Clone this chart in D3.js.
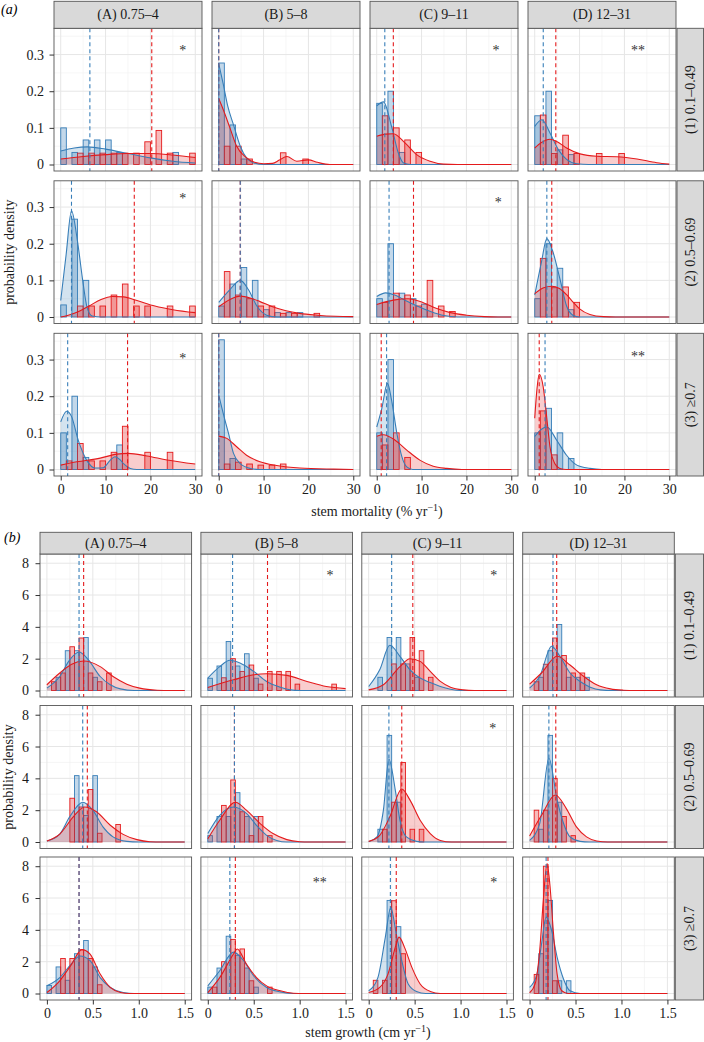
<!DOCTYPE html>
<html>
<head>
<meta charset="utf-8">
<script src="https://cdn.jsdelivr.net/npm/d3@7"></script>
<style>
  body { margin: 0; background: #fff; }
  svg { display: block; font-family: "Liberation Serif", "Times New Roman", serif; }
</style>
</head>
<body>
<svg id="chart" width="704" height="1042"></svg>
<script>
// facet labels
const sizeClasses = ["(A) 0.75–4", "(B) 5–8", "(C) 9–11", "(D) 12–31"];
const woodClasses = ["(1) 0.1–0.49", "(2) 0.5–0.69", "(3) ≥0.7"];

// ---- (a) stem mortality (% per yr). panels row-major: (1)A..D, (2)A..D, (3)A..D
// histogram bins of 2.5, blue = left half of each bin, red = right half
const mortBinWidth = 2.5;
const mortXMax = 30;
const mortXTicks = [0, 10, 20, 30];
const mortXMinor = [5, 15, 25];
const mortYTicks = [0, 0.1, 0.2, 0.3];
const mortYMinor = [0.05, 0.15, 0.25, 0.35];

const mortBlueBars = [
  [0.1, 0.033, 0.067, 0.067, 0.067, 0.033, 0, 0, 0, 0, 0.033],
  [0.277, 0.108, 0.015],
  [0.167, 0.2, 0.033],
  [0.133, 0.2, 0.04, 0.027],
  [0.033, 0.267, 0.1],
  [0.03, 0.09, 0.135, 0.1, 0.02, 0.012, 0.012, 0.012],
  [0.05, 0.2, 0.065, 0.05, 0.035],
  [0.05, 0.2, 0.133, 0.02],
  [0.1, 0.2, 0.033, 0, 0, 0.067],
  [0.354, 0.03],
  [0.1, 0.3],
  [0.1, 0.167, 0.1, 0.03]
];
const mortRedBars = [
  [0, 0.031, 0.031, 0.031, 0.031, 0.031, 0.031, 0.062, 0.093, 0.031, 0, 0.031],
  [0.05, 0.05, 0.015, 0, 0, 0.032, 0, 0.015],
  [0.133, 0.1, 0.067, 0.033],
  [0.135, 0.03, 0.08, 0.03, 0, 0.03, 0, 0.03],
  [0, 0.03, 0.03, 0.03, 0.06, 0.09, 0.03, 0.03, 0, 0.03, 0, 0.03],
  [0.124, 0.06, 0.05, 0.03, 0.03, 0.01, 0.01, 0, 0.01],
  [0.04, 0.065, 0.06, 0.03, 0.1, 0.03, 0.015],
  [0.16, 0.08, 0.082, 0.04],
  [0.0235, 0.071, 0.0235, 0.0235, 0.047, 0.118, 0, 0.047, 0, 0.047],
  [0.015, 0.02, 0.015, 0.012, 0.012, 0.015],
  [0.067, 0.1, 0.033],
  [0.16, 0.04]
];
const mortBlueCurves = [
  [[0,0.037],[3,0.045],[6,0.048],[10,0.042],[15,0.03],[20,0.018],[25,0.009],[30,0.004]],
  [[0,0.275],[1,0.22],[2,0.16],[3.3,0.108],[4.8,0.05],[6.2,0.018],[7.7,0.005],[10,0],[30,0]],
  [[0,0.16],[1.5,0.171],[3.3,0.104],[4.8,0.032],[5.9,0.005],[7.5,0],[30,0]],
  [[0,0.104],[1.6,0.122],[3.4,0.086],[5.3,0.04],[7.1,0.014],[9.4,0.002],[12,0],[30,0]],
  [[0,0.045],[1.2,0.17],[2.4,0.29],[3.7,0.21],[4.9,0.1],[5.9,0.025],[7,0.003],[9,0],[30,0]],
  [[0,0.04],[2.5,0.075],[4.8,0.1],[6.6,0.075],[8.5,0.03],[10.7,0.005],[13,0],[30,0]],
  [[0,0.056],[2,0.066],[4,0.06],[6,0.048],[9,0.03],[12,0.015],[15,0.004],[18,0],[30,0]],
  [[0,0.06],[1.5,0.15],[2.7,0.214],[4,0.18],[5.7,0.1],[7.1,0.03],[8.5,0.005],[10,0],[30,0]],
  [[0,0.13],[1.3,0.159],[2.4,0.145],[3.9,0.08],[5.8,0.025],[7.7,0.004],[9.5,0.005],[11,0.025],[12.1,0.035],[13.2,0.027],[14,0.016],[15.5,0.003],[17,0],[30,0]],
  [[0,0.203],[1,0.153],[2.2,0.098],[3.3,0.044],[4.8,0.016],[7,0.003],[9,0],[30,0]],
  [[0,0.116],[1.1,0.165],[2.4,0.235],[3.3,0.19],[4.5,0.098],[5.6,0.035],[6.7,0.007],[8,0],[30,0]],
  [[0,0.09],[1.5,0.11],[2.7,0.116],[4.9,0.08],[7.1,0.039],[9.4,0.012],[12.3,0.003],[15,0],[30,0]]
];
const mortRedCurves = [
  [[0,0.015],[5,0.022],[10,0.027],[15,0.03],[20,0.03],[25,0.026],[30,0.019]],
  [[0,0.18],[1,0.15],[2.5,0.1],[4,0.05],[6,0.02],[8,0.006],[10,0.002],[12,0.003],[13.5,0.012],[15.2,0.022],[17.4,0.009],[20,0.0126],[22,0.006],[24.8,0],[30,0]],
  [[0,0.077],[2,0.083],[3.7,0.084],[6.3,0.059],[8.9,0.027],[11.9,0.009],[14.9,0.001],[18,0],[30,0]],
  [[0,0.045],[1.5,0.06],[3.4,0.069],[5,0.062],[7.1,0.045],[10.1,0.029],[13.8,0.0225],[18.3,0.021],[22.8,0.015],[27.2,0.005],[30,0.001]],
  [[0,0],[1.5,0.004],[4,0.015],[6.3,0.03],[9,0.048],[11.5,0.056],[14,0.055],[17,0.045],[21,0.03],[25,0.02],[30,0.012]],
  [[0,0.028],[2.5,0.048],[4.8,0.057],[7,0.052],[9.2,0.042],[12,0.028],[15,0.017],[18,0.01],[22,0.005],[26,0.002],[30,0.001]],
  [[0,0.034],[3.7,0.046],[7,0.05],[10.4,0.039],[13.4,0.023],[16.4,0.012],[20,0.005],[24,0.001],[27,0],[30,0]],
  [[0,0.064],[2,0.08],[3.8,0.084],[5.5,0.078],[7.1,0.061],[8.6,0.04],[10,0.022],[12.3,0.007],[15.3,0.001],[18,0],[30,0]],
  [[0,0.012],[3.6,0.021],[8.8,0.031],[12.5,0.042],[15,0.044],[19.2,0.037],[23.7,0.026],[30,0.015]],
  [[0,0.091],[1.8,0.085],[4,0.062],[6.2,0.039],[9.2,0.021],[12.9,0.011],[18.1,0.004],[25.6,0.001],[30,0]],
  [[0,0.091],[1.5,0.095],[4.1,0.08],[6.7,0.053],[9.7,0.025],[12.6,0.009],[15.6,0.003],[19,0],[30,0]],
  [[0,0.14],[0.5,0.22],[1,0.26],[1.9,0.225],[2.7,0.14],[3.4,0.062],[4.5,0.016],[5.6,0.003],[7,0],[30,0]]
];
const mortBlueMeans = [6.5, 0, 1.8, 1.9, 2.4, 4.8, 2.75, 2.7, 1.55, 0, 2.2, 2.3];
const mortRedMeans = [20.3, 0, 3.7, 4.7, 16.4, 4.8, 8.2, 3.8, 14.9, 0, 1.0, 1.0];
const mortStars = [
  { panel: 0, x: 27.2, y: 0.317, label: "*" },
  { panel: 2, x: 26.6, y: 0.317, label: "*" },
  { panel: 3, x: 23, y: 0.317, label: "**" },
  { panel: 4, x: 27.2, y: 0.33, label: "*" },
  { panel: 6, x: 27.1, y: 0.32, label: "*" },
  { panel: 8, x: 27.2, y: 0.31, label: "*" },
  { panel: 11, x: 23, y: 0.316, label: "**" }
];

// ---- (b) stem growth (cm per yr), bins of 0.1
const growBinWidth = 0.1;
const growXMax = 1.5;
const growXTicks = [0, 0.5, 1, 1.5];
const growXMinor = [0.25, 0.75, 1.25];
const growYTicks = [0, 2, 4, 6, 8];
const growYMinor = [1, 3, 5, 7];

const growBlueBars = [
  [0, 0.83, 2.5, 2.5, 3.33, 0.83],
  [0.77, 1.54, 3.08, 1.54, 2.31, 0.77],
  [0, 0.83, 3.33, 3.33, 1.67, 0.83],
  [0, 0.83, 2.5, 4.15, 0.83, 0.83, 0.83],
  [0, 0, 0, 4.17, 1.67, 4.17],
  [0.4, 1.6, 1.6, 3.1, 1.6, 1.6],
  [0, 0.8, 6.7, 2.5],
  [0, 0.8, 6.7, 2.5],
  [0.5, 1.67, 0.83, 2.5, 3.33, 1.67],
  [0.4, 1.6, 3.6, 2.4, 1.6, 0.4],
  [0, 0, 5.85, 4.2],
  [0, 2.5, 5.85, 0.8, 0.8]
];
const growRedBars = [
  [0.55, 1.1, 2.75, 3.3, 1.1, 0.55, 1.1],
  [0, 0.8, 2.0, 1.2, 1.6, 0.4, 1.2, 1.2, 1.2, 0.4, 0, 0, 0, 0.4],
  [0, 0, 1.67, 1.67, 3.33, 2.5, 0.83],
  [0.55, 1.65, 3.3, 2.2, 1.1, 1.1],
  [0, 0, 2.75, 2.2, 3.3, 0.55, 0, 1.1],
  [0, 2.3, 3.9, 1.9, 0.4, 1.6, 0.4],
  [0, 0.8, 2.5, 5.0, 0.8, 0.8],
  [2.0, 2.0, 4.0, 1.6, 0.4],
  [0, 2.2, 2.2, 2.75, 2.2, 0.55],
  [0.4, 2.0, 3.4, 2.8, 0.8, 0, 0.4],
  [0.83, 0.83, 5.83, 2.5],
  [1.2, 8.0, 0.8]
];
const growBlueCurves = [
  [[0,0.15],[0.14,0.88],[0.25,1.94],[0.35,2.42],[0.45,1.94],[0.58,0.88],[0.69,0.36],[0.8,0.1],[0.95,0],[1.5,0]],
  [[0,0.78],[0.13,1.5],[0.24,1.9],[0.35,1.73],[0.5,1.2],[0.64,0.57],[0.79,0.21],[0.9,0.04],[1.0,0],[1.5,0]],
  [[0,0.25],[0.12,1.3],[0.23,2.84],[0.34,2.15],[0.45,1.3],[0.56,0.78],[0.67,0.5],[0.78,0.25],[0.89,0.08],[1.0,0],[1.5,0]],
  [[0,0.15],[0.11,0.88],[0.24,2.78],[0.33,2.15],[0.44,1.1],[0.55,0.57],[0.66,0.21],[0.77,0.04],[0.9,0],[1.5,0]],
  [[0,0.06],[0.14,0.5],[0.25,1.6],[0.39,2.5],[0.5,2.0],[0.61,0.95],[0.72,0.32],[0.87,0.04],[1.0,0],[1.5,0]],
  [[0,0.53],[0.13,1.68],[0.28,2.2],[0.42,1.8],[0.53,1.05],[0.64,0.42],[0.75,0.1],[0.86,0],[1.5,0]],
  [[0,0.02],[0.09,0.32],[0.16,2.0],[0.22,5.2],[0.29,3.25],[0.34,1.37],[0.41,0.32],[0.52,0.04],[0.6,0],[1.5,0]],
  [[0,0.1],[0.11,1.16],[0.21,5.26],[0.3,2.63],[0.37,1.16],[0.44,0.32],[0.55,0.04],[0.65,0],[1.5,0]],
  [[0,0.48],[0.14,1.0],[0.25,1.75],[0.36,2.36],[0.47,2.06],[0.58,1.0],[0.69,0.38],[0.83,0.06],[0.95,0],[1.5,0]],
  [[0,0.48],[0.13,1.43],[0.28,2.6],[0.39,2.06],[0.5,1.1],[0.64,0.38],[0.79,0.1],[0.93,0],[1.5,0]],
  [[0,0.17],[0.1,1.0],[0.18,3.5],[0.24,5.4],[0.3,3.75],[0.36,2.06],[0.43,0.6],[0.52,0.13],[0.62,0],[1.5,0]],
  [[0,0.38],[0.08,1.22],[0.13,3.1],[0.18,4.8],[0.24,3.96],[0.3,2.27],[0.37,0.9],[0.44,0.17],[0.55,0],[1.5,0]]
];
const growRedCurves = [
  [[0,0.36],[0.14,1.1],[0.27,1.65],[0.4,1.85],[0.58,1.5],[0.72,0.88],[0.87,0.4],[1.01,0.15],[1.2,0.02],[1.35,0],[1.5,0]],
  [[0,0.19],[0.28,0.67],[0.5,0.99],[0.64,1.05],[0.86,0.95],[1.08,0.57],[1.29,0.25],[1.5,0.12]],
  [[0,0.04],[0.16,0.36],[0.34,1.5],[0.45,2.0],[0.56,1.83],[0.67,1.2],[0.78,0.57],[0.89,0.21],[1.03,0.04],[1.15,0],[1.5,0]],
  [[0,0.4],[0.13,1.1],[0.3,2.15],[0.44,1.6],[0.59,0.88],[0.73,0.36],[0.88,0.1],[1.02,0.02],[1.15,0],[1.5,0]],
  [[0,0.06],[0.14,0.5],[0.29,1.6],[0.41,2.2],[0.54,1.9],[0.69,1.05],[0.83,0.48],[0.98,0.15],[1.12,0.02],[1.25,0],[1.5,0]],
  [[0,0.2],[0.13,1.37],[0.3,2.5],[0.42,2.0],[0.57,1.16],[0.71,0.53],[0.86,0.15],[1.0,0.02],[1.1,0],[1.5,0]],
  [[0,0.04],[0.12,0.42],[0.23,1.58],[0.36,3.33],[0.45,2.63],[0.56,1.37],[0.67,0.53],[0.78,0.1],[0.9,0],[1.5,0]],
  [[0,0.38],[0.13,1.68],[0.28,2.95],[0.4,2.1],[0.51,0.95],[0.62,0.32],[0.73,0.06],[0.85,0],[1.5,0]],
  [[0,0.06],[0.14,0.8],[0.27,1.85],[0.38,2.76],[0.47,2.48],[0.58,1.22],[0.69,0.38],[0.8,0.06],[0.9,0],[1.5,0]],
  [[0,0.06],[0.13,1.0],[0.28,2.48],[0.32,2.8],[0.42,1.85],[0.53,1.0],[0.64,0.48],[0.79,0.17],[0.93,0.02],[1.05,0],[1.5,0]],
  [[0,0.06],[0.12,0.38],[0.21,1.22],[0.3,3.1],[0.33,3.54],[0.39,2.9],[0.47,1.64],[0.56,0.6],[0.67,0.13],[0.78,0],[1.5,0]],
  [[0,0.05],[0.06,0.6],[0.11,2.7],[0.15,5.9],[0.19,8.17],[0.22,6.9],[0.26,3.8],[0.3,1.2],[0.35,0.17],[0.42,0],[1.5,0]]
];
const growBlueMeans = [0.35, 0.27, 0.25, 0.255, 0.39, 0.29, 0.22, 0.21, 0.35, 0.24, 0.236, 0.18];
const growRedMeans = [0.40, 0.65, 0.48, 0.295, 0.44, 0.29, 0.36, 0.285, 0.35, 0.30, 0.30, 0.20];
const growStars = [
  { panel: 1, x: 1.33, y: 7.4, label: "*" },
  { panel: 2, x: 1.36, y: 7.4, label: "*" },
  { panel: 6, x: 1.35, y: 7.3, label: "*" },
  { panel: 9, x: 1.22, y: 7.16, label: "**" },
  { panel: 10, x: 1.36, y: 7.16, label: "*" }
];

const blue = "#377EB8";
const red = "#E41A1C";
const fs = 14;
const svg = d3.select("#chart");
let clipId = 0;

function styleAxis(g) {
  g.attr("font-family", null).attr("font-size", fs);
  g.select(".domain").remove();
  g.selectAll(".tick line").attr("stroke", "#333");
  g.selectAll(".tick text").attr("fill", "#1a1a1a");
}

function drawFacets(cfg) {
  const g = svg.append("g");
  const allY = cfg.blueBars.flat().concat(cfg.redBars.flat(),
    cfg.blueCurves.flat().map(d => d[1]), cfg.redCurves.flat().map(d => d[1]));
  const yMax = d3.max(allY);
  const x = d3.scaleLinear().domain([-0.05 * cfg.xMax, 1.05 * cfg.xMax]).range([0, cfg.pw]);
  const y = d3.scaleLinear().domain([-0.05 * yMax, 1.05 * yMax]).range([cfg.ph, 0]);
  const area = d3.area().curve(d3.curveMonotoneX).x(d => x(d[0])).y0(y(0)).y1(d => y(d[1]));
  const line = d3.line().curve(d3.curveMonotoneX).x(d => x(d[0])).y(d => y(d[1]));
  const bw = cfg.binWidth;

  for (let r = 0; r < 3; r++) {
    for (let c = 0; c < 4; c++) {
      const i = r * 4 + c;
      const px = cfg.left + c * (cfg.pw + cfg.hgap);
      const py = cfg.top + r * (cfg.ph + cfg.vgap);
      const p = g.append("g").attr("transform", `translate(${px},${py})`);
      const id = "clip" + (clipId++);
      p.append("clipPath").attr("id", id).append("rect")
        .attr("width", cfg.pw).attr("height", cfg.ph);
      p.append("rect").attr("width", cfg.pw).attr("height", cfg.ph).attr("fill", "#fff");

      const inner = p.append("g").attr("clip-path", `url(#${id})`);
      // grid
      inner.selectAll(".vmin").data(cfg.xMinor).join("line")
        .attr("x1", d => x(d)).attr("x2", d => x(d)).attr("y1", 0).attr("y2", cfg.ph)
        .attr("stroke", "#F0F0F0").attr("stroke-width", 0.6);
      inner.selectAll(".hmin").data(cfg.yMinor).join("line")
        .attr("y1", d => y(d)).attr("y2", d => y(d)).attr("x1", 0).attr("x2", cfg.pw)
        .attr("stroke", "#F0F0F0").attr("stroke-width", 0.6);
      inner.selectAll(".vmaj").data(cfg.xTicks).join("line")
        .attr("x1", d => x(d)).attr("x2", d => x(d)).attr("y1", 0).attr("y2", cfg.ph)
        .attr("stroke", "#E6E6E6").attr("stroke-width", 1);
      inner.selectAll(".hmaj").data(cfg.yTicks).join("line")
        .attr("y1", d => y(d)).attr("y2", d => y(d)).attr("x1", 0).attr("x2", cfg.pw)
        .attr("stroke", "#E6E6E6").attr("stroke-width", 1);

      // histograms (dodged within each bin)
      const series = [
        { bars: cfg.blueBars[i], col: blue, off: 0 },
        { bars: cfg.redBars[i], col: red, off: 0.5 }
      ];
      series.forEach(s => {
        const data = s.bars.map((h, k) => ({ k, h })).filter(d => d.h > 0);
        inner.append("g").selectAll("rect").data(data).join("rect")
          .attr("x", d => x((d.k + s.off) * bw))
          .attr("width", d => x((d.k + s.off + 0.5) * bw) - x((d.k + s.off) * bw))
          .attr("y", d => y(d.h))
          .attr("height", d => y(0) - y(d.h))
          .attr("fill", s.col).attr("fill-opacity", 0.3)
          .attr("stroke", s.col).attr("stroke-width", 0.9);
      });

      // density curves
      [[cfg.blueCurves[i], blue], [cfg.redCurves[i], red]].forEach(([pts, col]) => {
        inner.append("path").datum(pts).attr("d", area)
          .attr("fill", col).attr("fill-opacity", 0.22);
      });
      [[cfg.blueCurves[i], blue], [cfg.redCurves[i], red]].forEach(([pts, col]) => {
        inner.append("path").datum(pts).attr("d", line)
          .attr("fill", "none").attr("stroke", col).attr("stroke-width", 1.1);
      });

      // mean lines
      [[cfg.redMeans[i], red], [cfg.blueMeans[i], blue]].forEach(([m, col]) => {
        inner.append("line")
          .attr("x1", x(m)).attr("x2", x(m)).attr("y1", 0).attr("y2", cfg.ph)
          .attr("stroke", col).attr("stroke-width", 1.1).attr("stroke-dasharray", "4,3");
      });

      // significance stars
      cfg.stars.filter(s => s.panel === i).forEach(s => {
        p.append("text").attr("x", x(s.x)).attr("y", y(s.y)).attr("dy", "0.5em")
          .attr("text-anchor", "middle").attr("font-size", fs).attr("fill", "#333")
          .text(s.label);
      });

      p.append("rect").attr("width", cfg.pw).attr("height", cfg.ph)
        .attr("fill", "none").attr("stroke", "#555").attr("stroke-width", 0.9);

      if (c === 0) {
        p.append("g")
          .call(d3.axisLeft(y).tickValues(cfg.yTicks).tickFormat(cfg.yFmt).tickSize(4.5).tickPadding(cfg.yPad))
          .call(styleAxis);
      }
      if (r === 2) {
        p.append("g").attr("transform", `translate(0,${cfg.ph})`)
          .call(d3.axisBottom(x).tickValues(cfg.xTicks).tickFormat(cfg.xFmt).tickSize(4.5).tickPadding(4))
          .call(styleAxis);
      }
      if (r === 0) {
        p.append("rect").attr("x", 0).attr("y", -cfg.stripH).attr("width", cfg.pw).attr("height", cfg.stripH)
          .attr("fill", "#D9D9D9").attr("stroke", "#555").attr("stroke-width", 0.9);
        p.append("text").attr("x", cfg.pw / 2).attr("y", -cfg.stripH / 2)
          .attr("text-anchor", "middle").attr("dominant-baseline", "central")
          .attr("font-size", fs).attr("fill", "#1a1a1a").text(sizeClasses[c]);
      }
      if (c === 3) {
        const sx = cfg.pw + 1, sw = 703.5 - (px + cfg.pw + 1);
        p.append("rect").attr("x", sx).attr("y", 0).attr("width", sw).attr("height", cfg.ph)
          .attr("fill", "#D9D9D9").attr("stroke", "#555").attr("stroke-width", 0.9);
        p.append("text").attr("transform", `translate(${sx + sw / 2},${cfg.ph / 2}) rotate(-90)`)
          .attr("text-anchor", "middle").attr("dominant-baseline", "central")
          .attr("font-size", fs).attr("fill", "#1a1a1a").text(woodClasses[r]);
      }
    }
  }

  // tag, axis titles
  svg.append("text").attr("x", cfg.tagX).attr("y", cfg.tagY)
    .attr("font-size", fs).attr("font-style", "italic").text(cfg.tag);
  const bottom = cfg.top + 3 * cfg.ph + 2 * cfg.vgap;
  const xt = svg.append("text").attr("x", cfg.xTitleX).attr("y", cfg.xTitleY)
    .attr("text-anchor", "middle").attr("font-size", fs).attr("fill", "#1a1a1a");
  xt.append("tspan").text(cfg.xTitle + " yr");
  xt.append("tspan").attr("dy", -5).attr("font-size", 10).text("−1");
  xt.append("tspan").attr("dy", 5).text(")");
  svg.append("text")
    .attr("transform", `translate(${cfg.yTitleX},${(cfg.top + bottom) / 2}) rotate(-90)`)
    .attr("text-anchor", "middle").attr("font-size", fs).attr("fill", "#1a1a1a")
    .text("probability density");
}

drawFacets({
  left: 54, pw: 148, hgap: 10, top: 28.3, ph: 142.7, vgap: 9.8, stripH: 27,
  xMax: mortXMax, binWidth: mortBinWidth,
  xTicks: mortXTicks, xMinor: mortXMinor, yTicks: mortYTicks, yMinor: mortYMinor,
  xFmt: d3.format("d"), yFmt: d => d === 0 ? "0" : d3.format(".1f")(d), yPad: 5.5,
  blueBars: mortBlueBars, redBars: mortRedBars,
  blueCurves: mortBlueCurves, redCurves: mortRedCurves,
  blueMeans: mortBlueMeans, redMeans: mortRedMeans, stars: mortStars,
  tag: "(a)", tagX: 1, tagY: 14,
  xTitle: "stem mortality (%", xTitleX: 377, xTitleY: 516, yTitleX: 14
});

drawFacets({
  left: 40, pw: 151.6, hgap: 9.3, top: 554, ph: 143, vgap: 8.5, stripH: 21.7,
  xMax: growXMax, binWidth: growBinWidth,
  xTicks: growXTicks, xMinor: growXMinor, yTicks: growYTicks, yMinor: growYMinor,
  xFmt: d => d === 0 ? "0" : d3.format(".1f")(d), yFmt: d3.format("d"), yPad: 6.5,
  blueBars: growBlueBars, redBars: growRedBars,
  blueCurves: growBlueCurves, redCurves: growRedCurves,
  blueMeans: growBlueMeans, redMeans: growRedMeans, stars: growStars,
  tag: "(b)", tagX: 4, tagY: 542,
  xTitle: "stem growth (cm", xTitleX: 368, xTitleY: 1037, yTitleX: 13
});
</script>
</body>
</html>
